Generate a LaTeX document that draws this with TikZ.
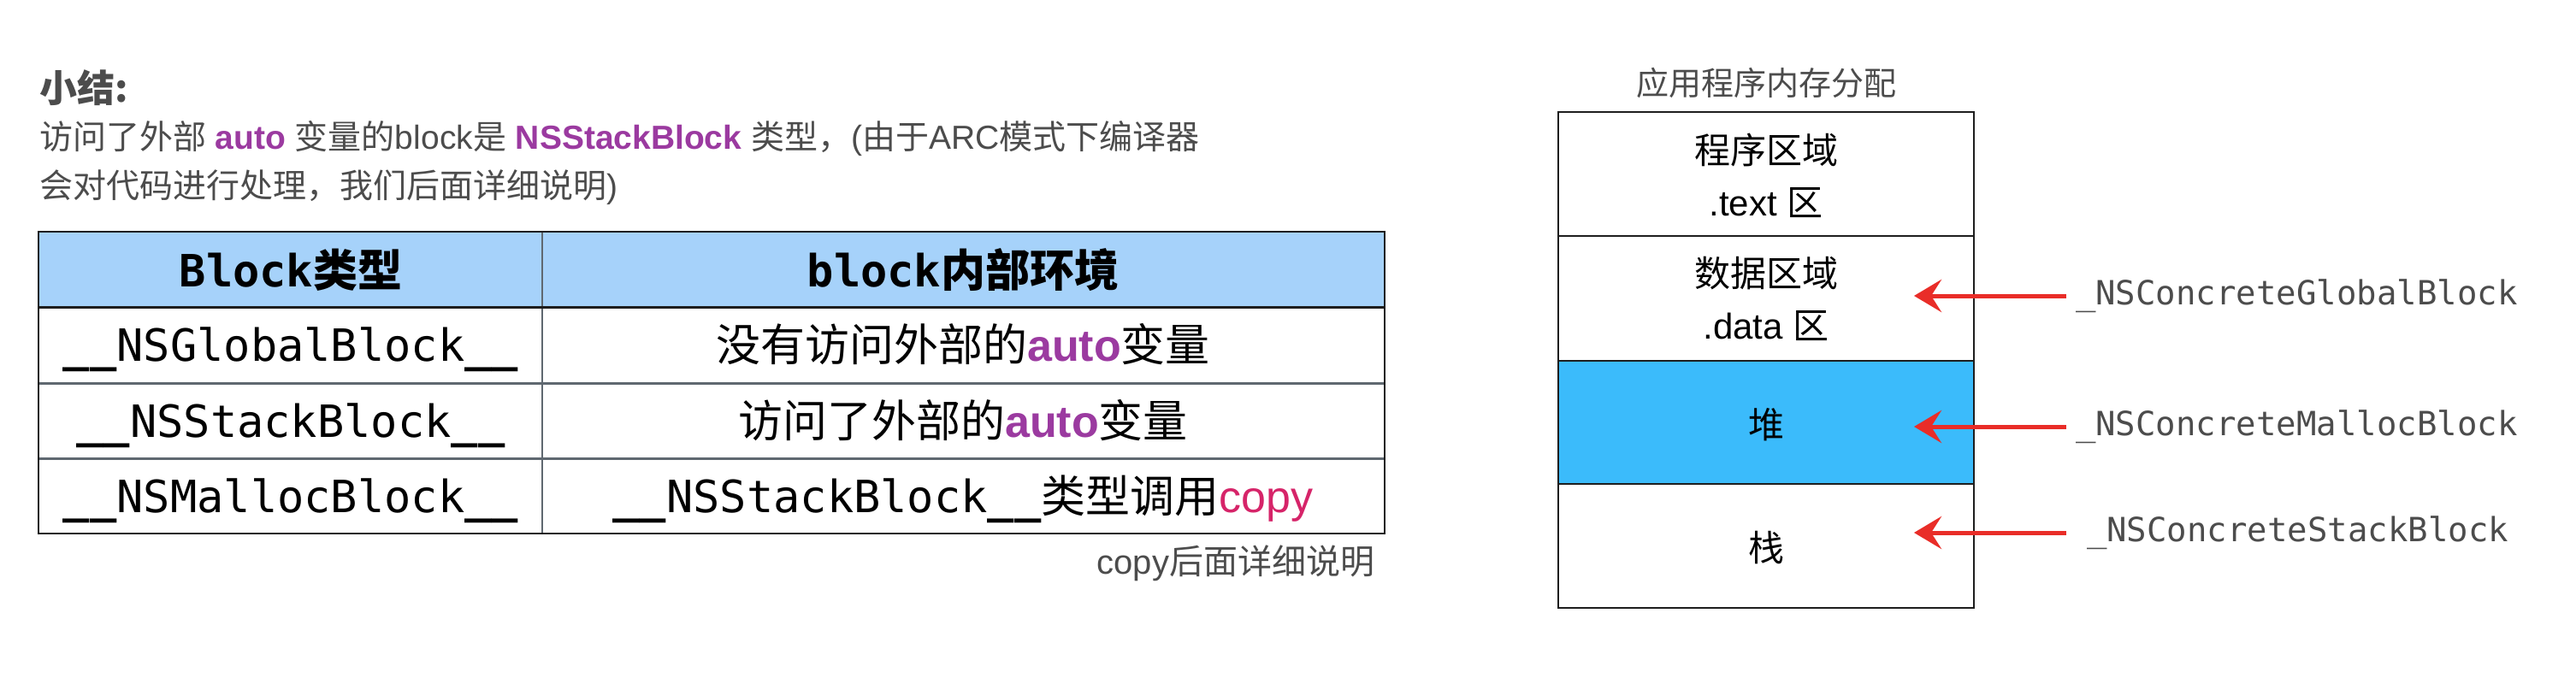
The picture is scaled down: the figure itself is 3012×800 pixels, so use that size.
\documentclass[tikz,border=0pt]{standalone}
\usepackage{fontspec}
\setmainfont{Liberation Sans}
\newfontfamily\cjk{Noto Sans CJK SC}
\newfontfamily\mono{DejaVu Sans Mono}
\usetikzlibrary{arrows.meta}
\definecolor{txtgray}{RGB}{76,76,76}
\definecolor{purp}{RGB}{155,58,160}
\definecolor{copyc}{RGB}{214,36,105}
\definecolor{hdrblue}{RGB}{166,210,250}
\definecolor{heapblue}{RGB}{59,187,251}
\definecolor{arrowred}{RGB}{233,45,40}
\definecolor{rowgray}{RGB}{95,104,112}
\definecolor{linedark}{RGB}{30,30,30}
\newcommand{\ubar}{{\bfseries\_\_}}
\tikzset{
  tline/.style={draw=linedark, line width=2.5pt},
  rline/.style={draw=rowgray, line width=3pt},
  cdiv/.style={draw=rowgray, line width=2.5pt},
  hdr/.style={anchor=base, font=\fontsize{52}{60}\selectfont\mono\bfseries, text=black},
  cellmono/.style={anchor=base, font=\fontsize{52}{60}\selectfont\mono, text=black},
  cellcjk/.style={anchor=base, font=\fontsize{52}{60}\selectfont, text=black},
  memcell/.style={draw=linedark, line width=2.5pt, minimum width=486pt},
  boxtxt/.style={font=\fontsize{42}{50}\selectfont, text=black},
  lbl/.style={anchor=west, inner xsep=11pt, font=\fontsize{39}{46}\selectfont\mono, text=txtgray},
  redarrow/.style={draw=arrowred, line width=5pt, -{Stealth[length=32pt,width=38pt,inset=12pt]}}
}
\begin{document}
\begin{tikzpicture}[x=1pt,y=-1pt, every node/.style={inner sep=0pt, outer sep=0pt}]
\useasboundingbox (0,0) rectangle (3012,800);
\fill[white] (0,0) rectangle (3012,800);

% heading text
\node[anchor=base west, font=\fontsize{44}{52}\selectfont\cjk\bfseries, text=txtgray] (title) at (46,119) {小结:};
\node[anchor=base west, font=\fontsize{39}{46}\selectfont, text=txtgray] (line1) at (46,174)
  {{\cjk 访问了外部} \textbf{\color{purp}auto} {\cjk 变量的}block{\cjk 是} \textbf{\color{purp}NSStackBlock} {\cjk 类型，}({\cjk 由于}ARC{\cjk 模式下编译器}};
\node[anchor=base west, font=\fontsize{39}{46}\selectfont, text=txtgray] (line2) at (46,231)
  {{\cjk 会对代码进行处理，我们后面详细说明})};

% table
\fill[hdrblue] (45,271) rectangle (1619,359);
\draw[rline] (45,448) -- (1619,448);
\draw[rline] (45,536) -- (1619,536);
\draw[cdiv] (634,271) -- (634,624);
\draw[tline, line width=3pt] (45,359) -- (1619,359);
\draw[tline] (45,271) rectangle (1619,624);

\node[hdr] (h1) at (340,335) {Block{\cjk\bfseries 类型}};
\node[hdr] (h2) at (1126,335) {block{\cjk\bfseries 内部环境}};

\node[cellmono] (r1a) at (340,422) {\ubar NSGlobalBlock\ubar};
\node[cellcjk] (r1b) at (1126,422) {{\cjk 没有访问外部的}\textbf{\color{purp}auto}{\cjk 变量}};
\node[cellmono] (r2a) at (340,511) {\ubar NSStackBlock\ubar};
\node[cellcjk] (r2b) at (1126,511) {{\cjk 访问了外部的}\textbf{\color{purp}auto}{\cjk 变量}};
\node[cellmono] (r3a) at (340,599) {\ubar NSMallocBlock\ubar};
\node[cellcjk] (r3b) at (1126,599) {{\mono \ubar NSStackBlock\ubar}{\cjk 类型调用}{\color{copyc}copy}};

\node[anchor=base east, font=\fontsize{40}{48}\selectfont, text=txtgray] (note) at (1607,671) {copy{\cjk 后面详细说明}};

% memory layout
\node[font=\fontsize{38}{46}\selectfont\cjk, text=txtgray] (memtitle) at (2065,97) {应用程序内存分配};
\node[memcell, minimum height=145pt] (ctext) at (2065,203.5) {};
\node[memcell, minimum height=146pt] (cdata) at (2065,349) {};
\node[memcell, minimum height=144pt, fill=heapblue] (cheap) at (2065,494) {};
\node[memcell, minimum height=145pt] (cstack) at (2065,638.5) {};

\node[boxtxt] (t1) at (2065,175) {\cjk 程序区域};
\node[boxtxt] (t2) at (2065,237) {.text {\cjk 区}};
\node[boxtxt] (d1) at (2065,320) {\cjk 数据区域};
\node[boxtxt] (d2) at (2065,381) {.data {\cjk 区}};
\node[boxtxt] (hp) at (2065,497) {\cjk 堆};
\node[boxtxt] (st) at (2065,641) {\cjk 栈};

% labels and arrows
\node[lbl] (lg) at (2416,346) {\_NSConcreteGlobalBlock};
\node[lbl] (lm) at (2416,499) {\_NSConcreteMallocBlock};
\node[lbl, inner xsep=24pt] (ls) at (2416,623) {\_NSConcreteStackBlock};
\coordinate (tg) at (2238,346);
\coordinate (tm) at (2238,499);
\coordinate (ts) at (2238,623);
\draw[redarrow] (lg.west) -- (tg);
\draw[redarrow] (lm.west) -- (tm);
\draw[redarrow] (ls.west) -- (ts);
\end{tikzpicture}
\end{document}
